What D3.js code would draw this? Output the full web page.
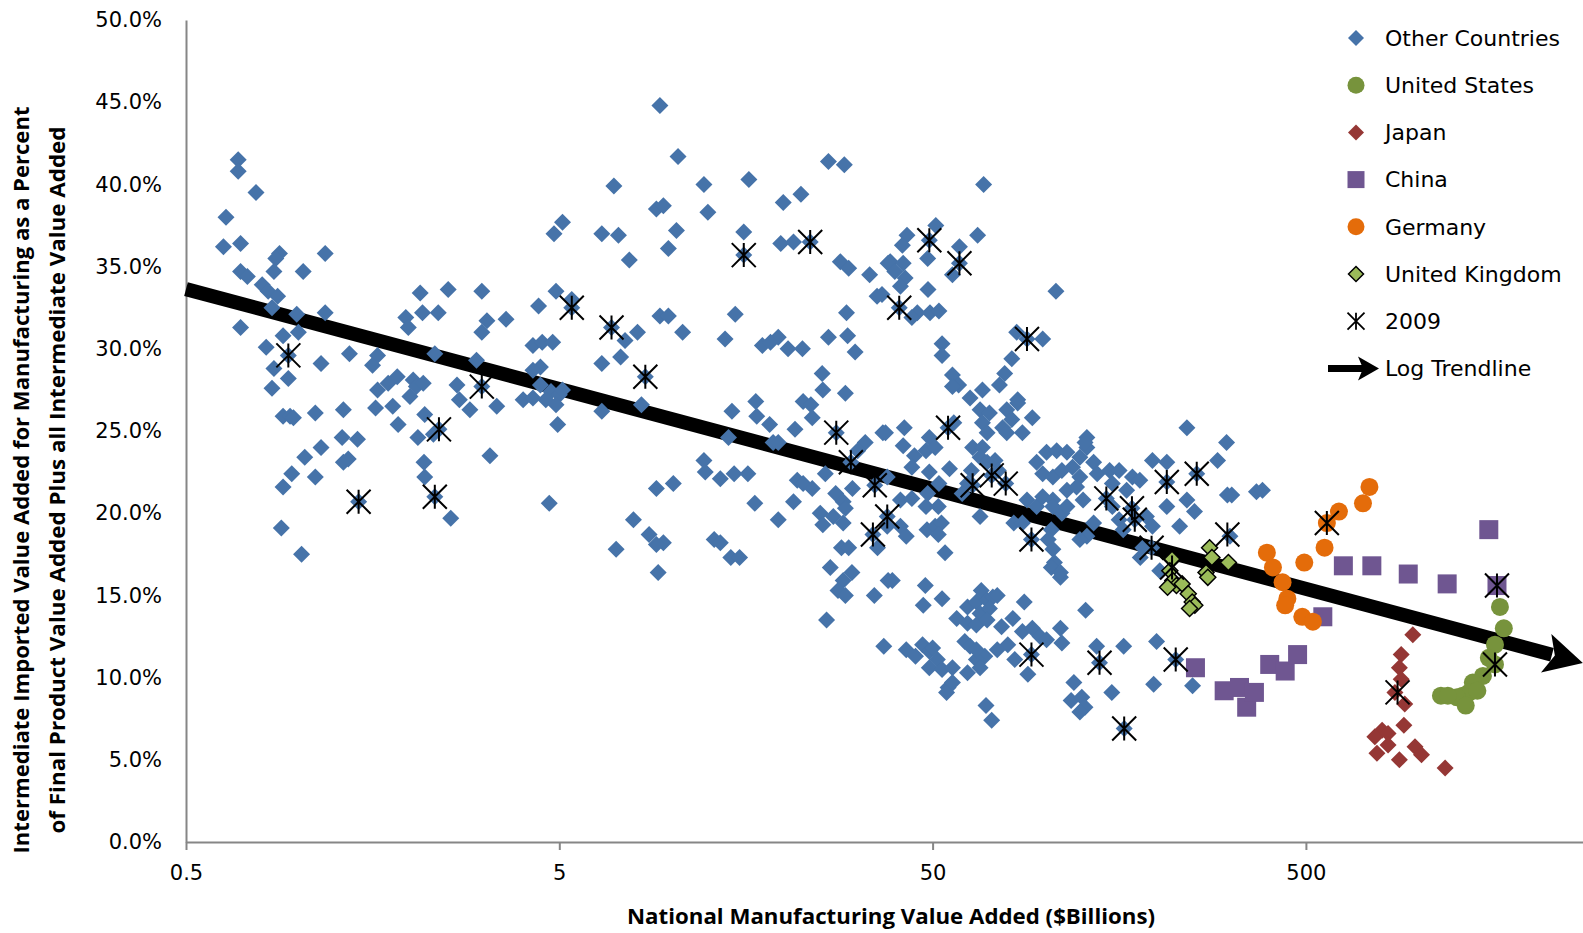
<!DOCTYPE html>
<html>
<head>
<meta charset="utf-8">
<script src="https://cdn.jsdelivr.net/npm/d3@7"></script>
<style>
body { margin: 0; background: #fff; }
svg { display: block; }
</style>
</head>
<body>
<svg id="chart" width="1583" height="933"></svg>
<script>
// values: [manufacturing value added ($bn), imported share (%)]
var otherCountries = [
[0.69,41.5],[0.69,40.8],[0.77,39.5],[0.64,38.0],[0.63,36.2],[0.70,36.4],[0.70,34.7],[0.73,34.4],[0.80,33.9],[0.83,33.5],
[0.88,33.2],[0.85,32.5],[0.89,35.8],[0.87,35.5],[0.86,34.7],[1.03,34.7],[1.18,35.8],[0.99,32.1],[1.18,32.2],[0.70,31.3],
[2.12,33.4],[2.52,33.6],[3.1,33.5],[2.15,32.2],[2.37,32.2],[1.94,31.9],[3.2,31.7],[3.6,31.8],[0.91,30.8],[1.0,31.0],
[0.82,30.1],[0.94,29.6],[1.15,29.1],[1.37,29.7],[1.63,29.6],[1.58,29.0],[0.86,28.8],[0.94,28.2],[0.85,27.6],[0.91,25.9],
[0.95,25.9],[0.97,25.8],[1.11,26.1],[1.32,26.3],[1.61,26.4],[1.79,26.5],[1.63,27.5],[1.74,27.9],[1.84,28.3],[2.03,28.1],
[2.07,27.7],[1.99,27.1],[2.16,27.9],[1.85,25.4],[2.18,26.0],[2.09,24.6],[2.38,25.1],[2.3,24.8],[2.32,29.7],[1.97,31.3],
[3.1,31.0],[3.0,29.3],[3.1,27.7],[2.66,27.8],[2.7,26.9],[2.88,26.3],[3.4,26.5],[4.0,26.9],[1.31,24.6],[1.44,24.5],
[1.15,24.0],[1.04,23.4],[1.32,23.1],[1.36,23.3],[0.96,22.4],[1.11,22.2],[0.91,21.6],[1.45,20.7],[2.32,21.0],[2.17,23.1],
[2.18,22.2],[3.26,23.5],[2.56,19.7],[0.90,19.1],[1.02,17.5],
[9.3,44.8],[10.4,41.7],[7.0,39.9],[12.2,40.0],[16.1,40.3],[26.3,41.4],[29,41.2],[5.1,37.7],[4.84,37.0],[6.5,37.0],
[7.2,36.9],[9.1,38.5],[9.5,38.7],[12.5,38.3],[10.3,37.2],[9.8,36.1],[7.7,35.4],[15.6,37.1],[15.6,35.7],[19.6,36.4],
[21.2,36.5],[23.5,36.5],[19.9,38.9],[22.2,39.4],[28.3,35.3],[29.8,34.9],[33.9,34.5],[38,35.2],[35.5,33.2],[29.4,32.2],
[14.8,32.1],[9.3,32.0],[9.8,32.0],[4.9,33.5],[4.4,32.6],[5.4,32.5],[5.4,33.0],[6.9,31.3],[7.5,30.5],[8.1,31.0],
[10.7,31.0],[13.9,30.6],[17.5,30.2],[19.3,30.7],[18.4,30.4],[20.5,30.0],[22.4,30.0],[26.3,30.7],[29.6,30.8],[31,29.8],
[6.5,29.1],[7.3,29.5],[8.5,28.3],[4.25,30.2],[4.5,30.4],[4.8,30.4],[4.45,28.9],[4.25,28.7],[4.45,27.8],[4.75,27.4],
[5.0,27.2],[4.6,26.9],[4.9,26.6],[4.25,27.0],[5.1,27.5],[4.95,25.4],[6.5,26.2],[8.3,26.6],[25.3,28.5],[25.4,27.5],
[29.2,27.3],[14.5,26.2],[16.8,26.8],[16.9,25.9],[18.3,25.4],[21.4,25.1],[22.5,26.8],[23.6,26.6],[23.8,25.8],[14.2,24.6],
[18.7,24.3],[19.3,24.3],[27.6,24.9],[36.8,24.9],[33,24.3],[31.5,23.8],[30.2,23.1],[35,21.7],[37.8,19.8],[34.6,18.7],
[12.2,23.2],[12.3,22.5],[13.5,22.1],[14.7,22.4],[16,22.4],[25.8,22.4],[21.7,22.0],[22.5,21.8],[23.8,21.5],[30.5,21.5],
[9.1,21.5],[10.1,21.8],[27.5,21.2],[28.8,20.7],[4.7,20.6],[16.7,20.6],[21.2,20.7],[29.2,20.3],[7.9,19.6],[19.3,19.6],
[25,20.0],[25.4,19.3],[27.1,19.8],[28.8,19.4],[8.7,18.7],[9.5,18.2],[9.1,18.1],[13.0,18.4],[13.5,18.2],[28.5,17.9],
[29.8,17.9],[7.1,17.8],[14.4,17.3],[15.2,17.3],[9.2,16.4],[26.6,16.7],[30.4,16.4],[35.6,17.9],[28.8,15.9],[27.9,15.3],
[29.2,15.0],[34.9,15.0],[26,13.5],[37,11.9],[38,15.9],
[51,37.5],[42.7,36.9],[41.5,36.3],[49,36.6],[48.5,35.5],[66,36.9],[59,36.2],[59,35.2],[56.5,34.5],[38.5,35.3],
[41.7,35.2],[39.6,34.7],[42.2,34.3],[41,33.8],[48.6,33.6],[36.6,33.3],[40.7,32.5],[45.5,32.2],[49.2,32.2],[52,32.3],
[44,31.9],[107,33.5],[84,31.0],[89.5,30.6],[98.6,30.6],[53,30.3],[53,29.6],[81.5,29.4],[78,28.5],[56.5,28.4],
[58.7,27.8],[56.5,27.7],[68,27.5],[75.5,27.8],[63,27.0],[84.5,26.9],[67,26.3],[71,26.1],[68,25.5],[70,24.9],
[79,26.3],[84.5,26.7],[81.5,25.7],[77,25.2],[79,24.9],[92.5,25.8],[87,24.9],[42,25.2],[37.4,24.9],[55,25.2],
[57,25.5],[41.7,24.1],[49,24.6],[44.7,23.5],[48,23.8],[50.8,24.0],[44,22.8],[49,22.5],[55.5,22.7],[63.5,22.6],
[64,24.0],[68,24.0],[67,23.4],[70,23.1],[73.5,23.2],[75,22.6],[72,22.3],[64,21.7],[78.5,21.8],[62,21.8],
[60,21.2],[52,21.8],[48.5,21.2],[37.8,22.2],[41,20.8],[44,20.9],[48,20.4],[51.8,20.4],[37.8,19.2],[41,19.2],
[42.5,18.6],[48.3,19.0],[50.8,19.2],[52.8,19.4],[51.8,18.7],[54,17.6],[67,19.8],[89.5,20.8],[95,20.4],[82.5,19.4],
[87,19.4],[92,18.4],[98.6,21.0],[105,20.8],[111,20.0],[104,19.0],[102,18.4],[105,17.8],[106,17.0],[104,16.7],
[110,16.1],[101,23.7],[107.5,23.8],[114.5,23.7],[124,23.4],[129.5,24.0],[129.5,24.6],[128,24.3],[95,23.1],[98.6,22.4],
[105,22.2],[111,22.6],[118.5,22.8],[124,22.2],[135,23.1],[138,22.4],[114.5,21.4],[121.5,21.6],[126.5,20.8],[114.5,20.4],
[105,20.4],[149,22.6],[158,22.6],[171.5,22.2],[151.5,21.8],[165.5,21.4],[179.5,22.0],[146,20.9],[171,20.3],[174,19.6],
[193,17.9],[135,19.4],[129.5,18.6],[124,18.4],[151.5,20.4],[158,19.6],[162,19.0],[194,23.2],[212,23.1],[212,21.9],
[212,20.4],[240,20.8],[251.5,20.1],[229.5,19.2],[255,22.4],[240,25.2],[306.5,24.3],[290,23.2],[308,21.1],[187,19.8],
[194,19.2],[203,16.5],[183,17.9],[180,17.3],[68.5,40.0],
[39,15.9],[47.8,15.6],[47.2,14.4],[53,14.8],[67.5,15.3],[62,14.3],[65.5,14.6],[70,14.7],[72.5,14.9],[74.5,15.0],
[67,13.9],[71,14.2],[58,13.6],[62,13.3],[65.5,13.2],[70,13.5],[76.5,13.1],[82,13.6],[88,14.6],[110,16.4],
[128.5,14.1],[110,13.0],[111,12.1],[87,12.8],[92.5,13.0],[97,12.5],[101,12.3],[83,11.1],[92,11.4],[90,10.2],
[79.5,12.0],[74.5,11.7],[69,11.3],[65.5,11.1],[67,10.6],[62,10.3],[61,12.2],[63,11.9],[65.5,11.7],[42.5,11.7],
[45,11.3],[47,12.0],[49,11.6],[50,11.8],[51.5,11.1],[49,10.6],[53,10.5],[56.5,10.6],[55,9.4],[54.5,9.1],
[56.5,9.7],[69.5,8.3],[72,7.4],[140,10.9],[137.5,11.9],[162.5,11.9],[199,12.2],[224,11.1],[119.5,9.7],[117.5,8.6],
[125.5,8.8],[128,8.2],[124,7.9],[151,9.1],[195.5,9.6],[248.5,9.5],[163,6.9],[368.5,21.3],[382.5,21.4],[316.5,21.1],
[313,18.6]
];

var unitedStates = [
[1655,14.3],[1695,13.0],[1605,12.0],[1545,11.2],[1605,10.8],[1490,10.1],[1400,9.7],[1370,9.1],[1315,8.9],[1270,8.8],
[1150,8.9],[1200,8.9],[1340,8.3],[1440,9.2]
];

var japan = [
[967,12.6],[900,11.4],[890,10.6],[900,9.9],[866,9.1],[920,8.4],[915,7.1],[800,6.8],[765,6.4],[830,6.6],
[830,5.9],[775,5.4],[890,5.0],[980,5.8],[1020,5.3],[1180,4.5]
];

var china = [
[253,10.6],[302,9.2],[332,9.4],[347,8.2],[364,9.1],[400,10.8],[440,10.4],[475,11.4],[555,13.7],[630,16.8],
[751,16.8],[940,16.3],[1195,15.7],[1545,19.0],[1625,15.6]
];

var germany = [
[740,21.6],[711,20.6],[613,20.1],[569,19.4],[561,17.9],[495,17.0],[393,17.6],[408,16.7],[433,15.8],[446,14.8],
[440,14.4],[489,13.7],[522,13.4]
];

var unitedKingdom = [
[219,17.2],[216,16.5],[220,15.9],[225,15.6],[213,15.5],[233,15.7],[242,15.1],[248,14.6],[252,14.4],[244,14.2],
[276,17.9],[280,17.3],[270,16.4],[310,17.0],[273,16.1]
];

var year2009 = [
[0.94,29.6],[1.45,20.7],[2.32,21.0],[2.38,25.1],[3.1,27.7],[5.4,32.5],[6.9,31.3],[8.5,28.3],[15.6,35.7],[23.5,36.5],
[27.6,24.9],[30.2,23.1],[35,21.7],[37.8,19.8],[34.6,18.7],[49,36.6],[59,35.2],[40.7,32.5],[89.5,30.6],[55,25.2],
[72,22.3],[64,21.7],[78.5,21.8],[92,18.4],[146,20.9],[171,20.3],[174,19.6],[193,17.9],[212,21.9],[255,22.4],
[92,11.4],[140,10.9],[224,11.1],[163,6.9],[308,18.7],[219,16.7],[569,19.4],[880,9.1],[1625,15.6],[1605,10.8]
];

// log trendline: share = a + b * ln(x)
var trendA = 31.8;
var trendB = -2.64;
var trendRange = [0.5, 2760];

var xTicks = [0.5, 5, 50, 500];
var yTicks = [0, 5, 10, 15, 20, 25, 30, 35, 40, 45, 50];

var legendItems = ["Other Countries", "United States", "Japan", "China", "Germany", "United Kingdom", "2009", "Log Trendline"];

var svg = d3.select("#chart");

var x = d3.scaleLog().domain([0.5, 5000]).range([186, 1679.2]);
var y = d3.scaleLinear().domain([0, 50]).range([842, 20]);

var tickFont = "'DejaVu Sans', Verdana, sans-serif";
var titleFont = "'Liberation Sans Narrow', 'Open Sans', sans-serif";

// axes
var xAxis = svg.append("g").attr("transform", "translate(0,842)")
	.call(d3.axisBottom(x).tickValues(xTicks).tickFormat(function(d){ return String(d); })
		.tickSizeInner(8).tickSizeOuter(0).tickPadding(15));
xAxis.select(".domain").attr("stroke", "#868686").attr("stroke-width", 2);
xAxis.selectAll(".tick line").attr("stroke", "#868686").attr("stroke-width", 2);
xAxis.selectAll(".tick text").attr("fill", "#000").style("font-family", tickFont).style("font-size", "21px");

var yAxis = svg.append("g").attr("transform", "translate(186,0)")
	.call(d3.axisLeft(y).tickValues(yTicks).tickFormat(function(d){ return d.toFixed(1) + "%"; })
		.tickSize(0).tickPadding(24));
yAxis.select(".domain").attr("stroke", "#868686").attr("stroke-width", 2);
yAxis.selectAll(".tick text").attr("fill", "#000").style("font-family", tickFont).style("font-size", "21px");

// trendline, drawn under the markers
function trend(v){ return trendA + trendB * Math.log(v); }
var tx0 = x(trendRange[0]), ty0 = y(trend(trendRange[0]));
var tx1 = x(trendRange[1]), ty1 = y(trend(trendRange[1]));
var ang = Math.atan2(ty1 - ty0, tx1 - tx0);
var head = 38, halfW = 20;
var ux = Math.cos(ang), uy = Math.sin(ang);
var bx = tx1 - ux * (head - 6), by = ty1 - uy * (head - 6);
svg.append("line").attr("x1", tx0).attr("y1", ty0).attr("x2", bx).attr("y2", by)
	.attr("stroke", "#000").attr("stroke-width", 14);
svg.append("path")
	.attr("d", "M" + tx1 + "," + ty1 +
		"L" + (tx1 - ux*head - uy*halfW) + "," + (ty1 - uy*head + ux*halfW) +
		"L" + (tx1 - ux*(head-9)) + "," + (ty1 - uy*(head-9)) +
		"L" + (tx1 - ux*head + uy*halfW) + "," + (ty1 - uy*head - ux*halfW) + "Z")
	.attr("fill", "#000");

// marker shapes
function diamond(r){ return "M0," + (-r) + "L" + r + ",0L0," + r + "L" + (-r) + ",0Z"; }
function square(s){ return "M" + (-s/2) + "," + (-s/2) + "h" + s + "v" + s + "h" + (-s) + "Z"; }
function star(r){ return "M" + (-r) + "," + (-r) + "L" + r + "," + r + "M" + (-r) + "," + r + "L" + r + "," + (-r) + "M0," + (-r) + "L0," + r; }

function plotPaths(data, d, fill, stroke, sw){
	svg.append("g").selectAll("path").data(data).enter().append("path")
		.attr("transform", function(p){ return "translate(" + x(p[0]) + "," + y(p[1]) + ")"; })
		.attr("d", d)
		.attr("fill", fill)
		.attr("stroke", stroke)
		.attr("stroke-width", sw);
}
function plotCircles(data, r, fill){
	svg.append("g").selectAll("circle").data(data).enter().append("circle")
		.attr("cx", function(p){ return x(p[0]); })
		.attr("cy", function(p){ return y(p[1]); })
		.attr("r", r).attr("fill", fill);
}

var cBlue = "#4673A9", cGreen = "#77933C", cRed = "#953735", cPurple = "#6F5691", cOrange = "#E46C0A", cLime = "#9BBB59";

plotPaths(otherCountries, diamond(8.5), cBlue, "none", 0);
plotCircles(unitedStates, 9, cGreen);
plotPaths(japan, diamond(8.5), cRed, "none", 0);
plotPaths(china, square(19), cPurple, "none", 0);
plotCircles(germany, 9, cOrange);
plotPaths(unitedKingdom, diamond(8), cLime, "#000", 1.5);
plotPaths(year2009, star(12), "none", "#000", 2);

// axis titles
svg.append("text").attr("x", 891).attr("y", 924).attr("text-anchor", "middle")
	.style("font-family", titleFont).style("font-weight", "bold").style("font-size", "21px")
	.attr("textLength", 528).attr("lengthAdjust", "spacingAndGlyphs")
	.text("National Manufacturing Value Added ($Billions)");

var yTitle = svg.append("g").attr("transform", "translate(22,480) rotate(-90)");
yTitle.append("text").attr("x", 0).attr("y", 0).attr("dy", "0.35em").attr("text-anchor", "middle")
	.style("font-family", titleFont).style("font-weight", "bold").style("font-size", "21px")
	.attr("textLength", 747).attr("lengthAdjust", "spacingAndGlyphs")
	.text("Intermediate Imported Value Added for Manufacturing as a Percent");
yTitle.append("text").attr("x", 0).attr("y", 36).attr("dy", "0.35em").attr("text-anchor", "middle")
	.style("font-family", titleFont).style("font-weight", "bold").style("font-size", "21px")
	.attr("textLength", 707).attr("lengthAdjust", "spacingAndGlyphs")
	.text("of Final Product Value Added Plus all Intermediate Value Added");

// legend
var legend = svg.append("g").attr("transform", "translate(1356,38)");
var rowH = 47.2;
var lg = legend.selectAll("g").data(legendItems).enter().append("g")
	.attr("transform", function(d, i){ return "translate(0," + (i * rowH) + ")"; });
lg.append("text").attr("x", 29).attr("y", 0).attr("dy", "0.35em")
	.style("font-family", tickFont).style("font-size", "22px").attr("fill", "#000")
	.text(function(d){ return d; });
lg.each(function(d, i){
	var g = d3.select(this);
	if (i == 0) g.append("path").attr("d", diamond(8)).attr("fill", cBlue);
	else if (i == 1) g.append("circle").attr("r", 8.5).attr("fill", cGreen);
	else if (i == 2) g.append("path").attr("d", diamond(8)).attr("fill", cRed);
	else if (i == 3) g.append("path").attr("d", square(17)).attr("fill", cPurple);
	else if (i == 4) g.append("circle").attr("r", 8.5).attr("fill", cOrange);
	else if (i == 5) g.append("path").attr("d", diamond(7.5)).attr("fill", cLime).attr("stroke", "#000").attr("stroke-width", 1.5);
	else if (i == 6) g.append("path").attr("d", star(8.5)).attr("fill", "none").attr("stroke", "#000").attr("stroke-width", 1.8);
	else {
		g.append("line").attr("x1", -28).attr("x2", 8).attr("y1", 0).attr("y2", 0).attr("stroke", "#000").attr("stroke-width", 7);
		g.append("path").attr("d", "M23,0L2,-12L7,0L2,12Z").attr("fill", "#000");
	}
});
</script>
</body>
</html>
